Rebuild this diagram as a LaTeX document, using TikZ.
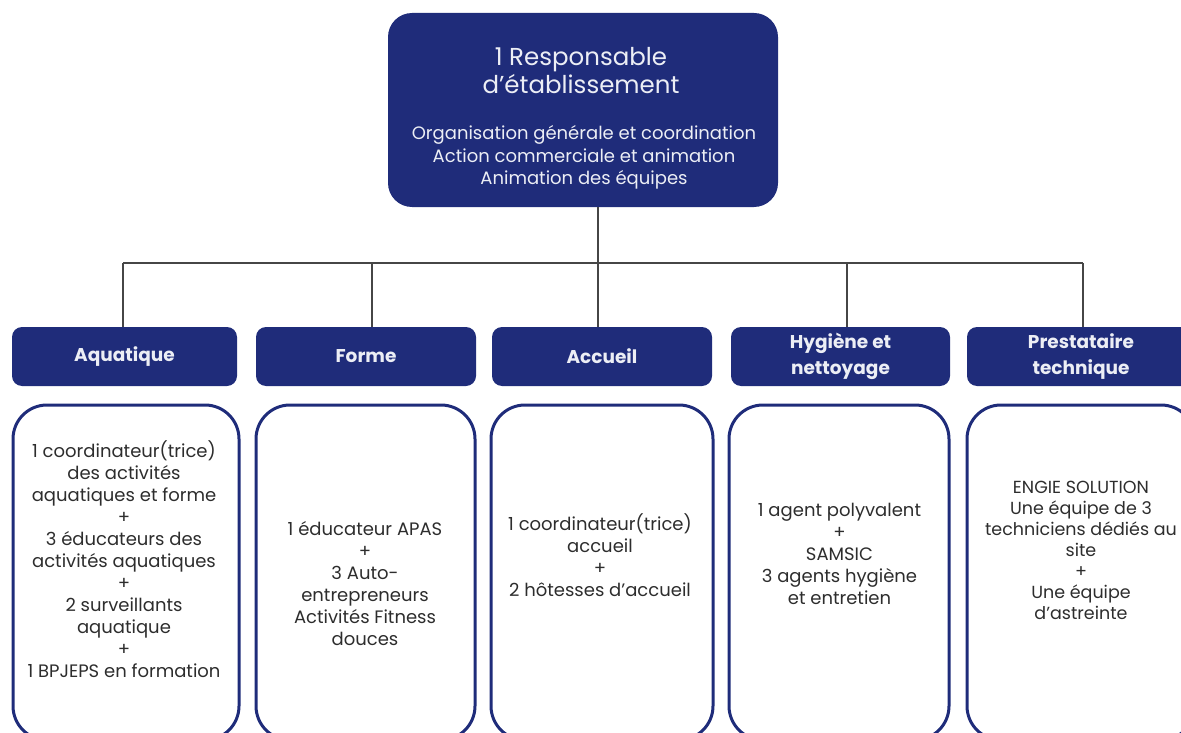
\documentclass[tikz,border=0pt]{standalone}
\usepackage{fontspec}
\setmainfont{Poppins}
\definecolor{navy}{RGB}{31,44,122}
\definecolor{ink}{RGB}{45,45,45}
\definecolor{wire}{RGB}{70,70,70}
\definecolor{softwhite}{RGB}{236,238,245}
\begin{document}
\begin{tikzpicture}[x=1pt,y=-1pt,
  topbox/.style={fill=navy, rounded corners=24pt, minimum width=390pt, minimum height=194pt, inner sep=0pt},
  toptitle/.style={text=softwhite, align=center, inner sep=0pt, font=\fontsize{24.5}{28}\selectfont},
  topbody/.style={text=softwhite, align=center, inner sep=0pt, font=\fontsize{18}{22.5}\selectfont},
  headbox/.style={fill=navy, rounded corners=10pt, text=softwhite, align=center, minimum height=59pt, inner sep=0pt, font=\fontsize{18.5}{26}\selectfont\bfseries},
  staffbox/.style={draw=navy, line width=3pt, rounded corners=34pt, minimum height=335pt, inner sep=0pt},
  stafftext/.style={text=ink, align=center, inner sep=0pt, font=\fontsize{18}{22}\selectfont},
  conn/.style={draw=wire, line width=1.4pt}]
\useasboundingbox (0,0) rectangle (1181,733);

% top box
\node[topbox] (top) at (583,110) {};
\node[toptitle] (topt) at (581,71) {1 Responsable\\d’établissement};
\node[topbody] (topb) at (584,157.5) {Organisation générale et coordination\\Action commerciale et animation\\Animation des équipes};

% headers
\node[headbox, minimum width=225pt] (aq) at (124.5,356.5) {Aquatique};
\node[headbox, minimum width=220pt] (fo) at (366,356.5) {Forme};
\node[headbox, minimum width=220pt] (ac) at (602,356.5) {Accueil};
\node[headbox, minimum width=219pt] (hy) at (840.5,356.5) {Hygiène et\\nettoyage};
\node[headbox, minimum width=228pt] (pr) at (1081,356.5) {Prestataire\\technique};

% staff boxes
\node[staffbox, minimum width=226pt] (aqb) at (126,572.5) {};
\node[staffbox, minimum width=219pt] (fob) at (365.5,572.5) {};
\node[staffbox, minimum width=222pt] (acb) at (602,572.5) {};
\node[staffbox, minimum width=220pt] (hyb) at (839,572.5) {};
\node[staffbox, minimum width=228pt] (prb) at (1081,572.5) {};

\node[stafftext] (aqt) at (124,559.5) {1 coordinateur(trice)\\des activités\\aquatiques et forme\\+\\3 éducateurs des\\activités aquatiques\\+\\2 surveillants\\aquatique\\+\\1 BPJEPS en formation};
\node[stafftext] (fot) at (365,584) {1 éducateur APAS\\+\\3 Auto-\\entrepreneurs\\Activités Fitness\\douces};
\node[stafftext] (act) at (600,555.5) {1 coordinateur(trice)\\accueil\\+\\2 hôtesses d’accueil};
\node[stafftext] (hyt) at (839.5,554) {1 agent polyvalent\\+\\SAMSIC\\3 agents hygiène\\et entretien};
\node[stafftext, font=\fontsize{17.5}{21}\selectfont] (prt) at (1081,550) {ENGIE SOLUTION\\Une équipe de 3\\techniciens dédiés au\\site\\+\\Une équipe\\d’astreinte};

% connectors
\coordinate (j1) at (123,263);
\coordinate (j2) at (372,263);
\coordinate (j3) at (598,263);
\coordinate (j4) at (847,263);
\coordinate (j5) at (1083,263);
\draw[conn] (top.south -| j3) -- (j3);
\draw[conn] (j1) -- (j5);
\draw[conn] (j1) -- (j1 |- aq.north);
\draw[conn] (j2) -- (j2 |- fo.north);
\draw[conn] (j3) -- (j3 |- ac.north);
\draw[conn] (j4) -- (j4 |- hy.north);
\draw[conn] (j5) -- (j5 |- pr.north);
\end{tikzpicture}
\end{document}
